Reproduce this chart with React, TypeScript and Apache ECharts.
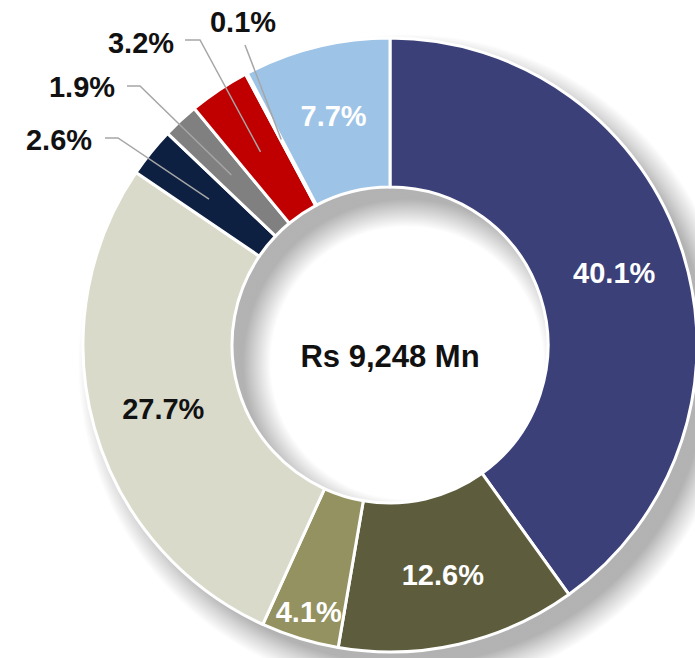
import React, { useEffect, useRef } from "react";
import * as echarts from "echarts";

const segments = ["Seg 1", "Seg 2", "Seg 3", "Seg 4", "Seg 5", "Seg 6", "Seg 7", "Seg 8", "Seg 9"];
const shares = [40.1, 12.6, 4.1, 27.7, 2.6, 1.9, 3.2, 0.1, 7.7];
const sliceColors = ["#3B4079", "#5D5D3D", "#939260", "#DADACB", "#0E2042", "#808080", "#C00000", "#F2F2F2", "#9DC3E6"];
const insideLabelColors = ["#FFFFFF", "#FFFFFF", "#FFFFFF", "#111111", null, null, null, null, "#FFFFFF"];
const totalText = "Rs 9,248 Mn";

// outside label placement (label centre, elbow, end of line)
const outsideLayout: Record<number, { x: number; y: number; pts: number[][] }> = {
  4: { x: 59, y: 140, pts: [[118, 138], [105, 138]] },
  5: { x: 82, y: 87, pts: [[140, 86], [127, 86]] },
  6: { x: 141, y: 43, pts: [[200, 40], [185, 40]] },
  7: { x: 243, y: 22, pts: [[245, 45]] },
};

const FONT = "'Liberation Sans', Arial, sans-serif";

export default function App() {
  const ref = useRef<HTMLDivElement>(null);
  useEffect(() => {
    if (!ref.current) return;
    const chart = echarts.init(ref.current, undefined, { renderer: "svg" });
    const center = [390, 345];
    const inner = 158;
    const outer = 307;
    const shOff = [17, 18];
    const soft = 22;
    const shR = outer + soft;
    const fmt = (p: any) => p.value.toFixed(1) + "%";
    const shadowFill = {
      type: "radial",
      x: 0.5,
      y: 0.5,
      r: 0.5,
      colorStops: [
        { offset: 0, color: "rgba(0,0,0,0)" },
        { offset: (inner - soft) / shR, color: "rgba(0,0,0,0)" },
        { offset: (inner + 6) / shR, color: "rgba(0,0,0,0.3)" },
        { offset: (outer - 6) / shR, color: "rgba(0,0,0,0.3)" },
        { offset: (outer + 6) / shR, color: "rgba(0,0,0,0.16)" },
        { offset: 1, color: "rgba(0,0,0,0)" },
      ],
    };
    chart.setOption({
      animation: false,
      backgroundColor: "#FFFFFF",
      series: [
        {
          type: "pie",
          z: 1,
          silent: true,
          center,
          radius: [inner, outer],
          label: { show: false },
          labelLine: { show: false },
          itemStyle: { color: "#FFFFFF" },
          data: [{ value: 1, name: "ring" }],
        },
        {
          type: "pie",
          z: 2,
          silent: true,
          center,
          radius: [inner, outer],
          startAngle: 90,
          clockwise: true,
          avoidLabelOverlap: false,
          itemStyle: { borderColor: "#FFFFFF", borderWidth: 3 },
          labelLine: { show: false },
          labelLayout: (p: any) => (p.dataIndex === 2 ? { dx: -12, dy: 42 } : {}),
          data: shares.map((v, i) => ({
            value: v,
            name: segments[i],
            itemStyle: { color: sliceColors[i] },
            label: insideLabelColors[i]
              ? {
                  show: true,
                  position: "inside",
                  formatter: fmt,
                  color: insideLabelColors[i],
                  fontSize: 29,
                  fontWeight: "bold",
                  fontFamily: FONT,
                }
              : { show: false },
          })),
        },
        {
          type: "pie",
          z: 3,
          silent: true,
          center,
          radius: [0, (inner + outer) / 2],
          startAngle: 90,
          clockwise: true,
          avoidLabelOverlap: false,
          itemStyle: { color: "rgba(0,0,0,0)" },
          labelLine: { show: true, length: 20, length2: 10, lineStyle: { color: "#A6A6A6", width: 1.5 } },
          labelLayout: (p: any) => {
            const o = outsideLayout[p.dataIndex];
            if (!o) return {};
            const start = p.labelLinePoints ? p.labelLinePoints[0] : o.pts[0];
            return {
              x: o.x,
              y: o.y,
              align: "center",
              verticalAlign: "middle",
              labelLinePoints: [start, ...o.pts],
            };
          },
          data: shares.map((v, i) => ({
            value: v,
            name: segments[i],
            label: outsideLayout[i]
              ? {
                  show: true,
                  position: "outside",
                  formatter: fmt,
                  color: "#111111",
                  fontSize: 29,
                  fontWeight: "bold",
                  fontFamily: FONT,
                }
              : { show: false },
            labelLine: { show: !!outsideLayout[i] },
          })),
        },
      ],
      graphic: [
        {
          type: "ring",
          z: 0,
          zlevel: 0,
          silent: true,
          shape: {
            cx: center[0] + shOff[0],
            cy: center[1] + shOff[1],
            r: shR,
            r0: inner - soft,
          },
          style: { fill: shadowFill },
        },
        {
          type: "text",
          x: center[0],
          y: 356,
          z: 10,
          style: {
            text: totalText,
            fill: "#111111",
            font: `bold 31px ${FONT}`,
            textAlign: "center",
            textVerticalAlign: "middle",
          },
        },
      ],
    });
    return () => chart.dispose();
  }, []);
  return (
    <div
      ref={ref}
      style={{ position: "absolute", left: 0, top: 0, width: 695, height: 658 }}
    />
  );
}
